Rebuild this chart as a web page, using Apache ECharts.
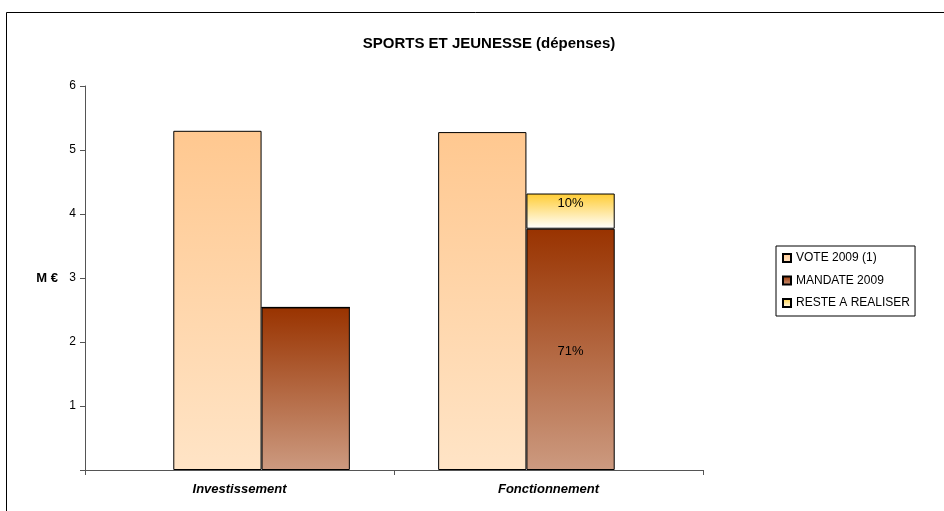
<!DOCTYPE html>
<html>
<head>
<meta charset="utf-8">
<script src="https://cdn.jsdelivr.net/npm/echarts@6/dist/echarts.min.js"></script>
<style>
  html, body { margin: 0; padding: 0; background: #fff; }
  #chart { width: 944px; height: 511px; }
</style>
</head>
<body>
<div id="chart"></div>
<script>
// data (M €)
const categories = ['Investissement', 'Fonctionnement'];
const voteValues = [5.30, 5.28];
const mandateValues = [2.54, 3.77];
const resteValues = [0, 0.55];
const mandateLabels = ['', '71%'];
const resteLabels = ['', '10%'];
const yTicks = [1, 2, 3, 4, 5, 6];

// the original (Excel) puts the bars on 7 equal slots across the plot,
// not centred in each category: empty, vote, mandate, empty, vote, mandate, empty
const slotCount = 7;
const voteSlots = [1, 4];
const mandateSlots = [2, 5];

function toSlots(values, slots) {
    const out = [];
    for (let i = 0; i < slotCount; i++) out.push('-');
    values.forEach((v, i) => { out[slots[i]] = v; });
    return out;
}
function slotLabel(labels, slots) {
    return function (p) {
        const i = slots.indexOf(p.dataIndex);
        return i >= 0 ? labels[i] : '';
    };
}

const font = '"Liberation Sans", Arial, sans-serif';

function vgrad(top, bottom) {
    return new echarts.graphic.LinearGradient(0, 0, 0, 1, [
        { offset: 0, color: top },
        { offset: 1, color: bottom }
    ]);
}

const slotNames = [];
for (let i = 0; i < slotCount; i++) slotNames.push('s' + i);

const chart = echarts.init(document.getElementById('chart'));
chart.setOption({
    animation: false,
    textStyle: { fontFamily: font },
    title: {
        text: 'SPORTS ET JEUNESSE (dépenses)',
        left: 484,
        top: 31,
        textAlign: 'center',
        textStyle: { fontSize: 15, fontWeight: 'bold', color: '#000', fontFamily: font }
    },
    graphic: [
        {
            type: 'rect',
            shape: { x: 6.5, y: 12.5, width: 960, height: 520 },
            style: { fill: 'none', stroke: '#000', lineWidth: 1 },
            silent: true
        }
    ],
    legend: {
        orient: 'vertical',
        left: 776,
        top: 246,
        padding: [6, 5, 7, 6],
        itemGap: 10.5,
        itemWidth: 8,
        itemHeight: 8,
        icon: 'rect',
        borderColor: '#000',
        borderWidth: 1,
        borderRadius: 0,
        textStyle: { fontSize: 12, color: '#000', fontFamily: font, padding: [0, 0, 0, 0] },
        data: ['VOTE 2009 (1)', 'MANDATE 2009', 'RESTE A REALISER']
    },
    grid: { left: 85, top: 86, right: 241, bottom: 41 },
    xAxis: [
        {
            type: 'category',
            data: categories,
            axisLine: { lineStyle: { color: '#555', width: 1 } },
            axisTick: { show: true, length: 5, inside: false, lineStyle: { color: '#555' } },
            axisLabel: {
                margin: 13,
                fontSize: 13,
                fontStyle: 'italic',
                fontWeight: 'bold',
                color: '#000',
                fontFamily: font
            },
            splitLine: { show: false }
        },
        {
            type: 'category',
            data: slotNames,
            show: false,
            position: 'bottom'
        }
    ],
    yAxis: {
        type: 'value',
        min: 0,
        max: 6,
        interval: 1,
        name: 'M €',
        nameLocation: 'middle',
        nameRotate: 0,
        nameGap: 27,
        nameTextStyle: { fontSize: 13, fontWeight: 'bold', color: '#000', fontFamily: font },
        axisLine: { show: true, lineStyle: { color: '#555', width: 1 } },
        axisTick: { show: true, length: 5, lineStyle: { color: '#555' } },
        axisLabel: {
            fontSize: 12,
            color: '#000',
            margin: 9,
            fontFamily: font,
            formatter: function (v) { return yTicks.indexOf(v) >= 0 ? String(v) : ''; }
        },
        splitLine: { show: false }
    },
    series: [
        {
            name: 'VOTE 2009 (1)',
            type: 'bar',
            xAxisIndex: 1,
            stack: 'slots',
            data: toSlots(voteValues, voteSlots),
            barCategoryGap: '0%',
            itemStyle: { color: vgrad('#FFC890', '#FFE4C6'), borderColor: '#000', borderWidth: 1 }
        },
        {
            name: 'MANDATE 2009',
            type: 'bar',
            xAxisIndex: 1,
            stack: 'slots',
            data: toSlots(mandateValues, mandateSlots),
            itemStyle: { color: vgrad('#993300', '#CC9A80'), borderColor: '#000', borderWidth: 1 },
            label: {
                show: true,
                position: 'inside',
                offset: [0, 2],
                fontSize: 13,
                color: '#000',
                fontFamily: font,
                formatter: slotLabel(mandateLabels, mandateSlots)
            }
        },
        {
            name: 'RESTE A REALISER',
            type: 'bar',
            xAxisIndex: 1,
            stack: 'slots',
            data: toSlots(resteValues, mandateSlots),
            itemStyle: { color: vgrad('#FFCC33', '#FFFFFF'), borderColor: '#000', borderWidth: 1 },
            label: {
                show: true,
                position: 'insideTop',
                distance: 3,
                fontSize: 13,
                color: '#000',
                fontFamily: font,
                formatter: slotLabel(resteLabels, mandateSlots)
            }
        }
    ]
});
</script>
</body>
</html>
